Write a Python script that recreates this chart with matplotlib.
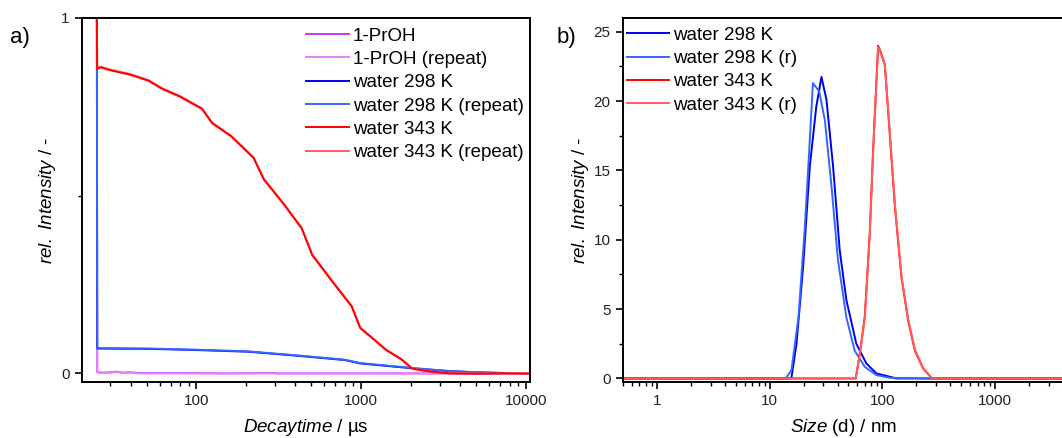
import numpy as np
import matplotlib
matplotlib.use('Agg')
import matplotlib.pyplot as plt
import matplotlib.ticker as mticker

plt.rcParams['font.family'] = ['Liberation Sans', 'DejaVu Sans']
plt.rcParams['mathtext.fontset'] = 'custom'
plt.rcParams['mathtext.rm'] = 'Liberation Sans'
plt.rcParams['mathtext.it'] = 'Liberation Sans:italic'

# ---- panel a: decay curves ----
t_red = [25, 25.1, 26.3, 30, 40, 51.5, 62.4, 79.4, 108.5, 125, 163, 223, 258, 336,
         437, 506, 658, 879, 991, 1173, 1420, 1764, 2037, 2400, 3375, 5000, 7500, 10700]
i_red = [1.0, 0.856, 0.861, 0.853, 0.840, 0.823, 0.800, 0.779, 0.744, 0.704, 0.667,
         0.606, 0.545, 0.479, 0.408, 0.333, 0.263, 0.188, 0.127, 0.099, 0.066, 0.039,
         0.014, 0.0075, 0.0, -0.001, 0.0, -0.001]
i_red_r = [1.0, 0.858, 0.863, 0.855, 0.842, 0.825, 0.802, 0.781, 0.746, 0.706, 0.669,
           0.608, 0.547, 0.481, 0.410, 0.335, 0.265, 0.190, 0.129, 0.100, 0.067, 0.040,
           0.015, 0.008, 0.001, 0.0, 0.0, 0.0]

t_blue = [25, 25.1, 51.5, 96, 208, 427, 798, 991, 2088, 3375, 4960, 7460]
i_blue = [1.0, 0.070, 0.069, 0.066, 0.061, 0.049, 0.0376, 0.028, 0.014, 0.0066, 0.003, 0.001]
i_blue_r = [1.0, 0.071, 0.070, 0.067, 0.062, 0.050, 0.0385, 0.029, 0.015, 0.007, 0.0035, 0.0012]

t_pr = [25, 25.1, 27, 30, 33, 36, 40, 45, 60, 90, 150, 300, 320, 600, 1000, 3000, 10700]
i_pr = [1.0, 0.004, 0.002, 0.003, 0.005, 0.002, 0.003, 0.001, 0.001, 0.001, 0.0,
        0.001, 0.0, 0.0, 0.0, 0.0, 0.0]
i_pr_r = [1.0, 0.003, 0.001, 0.002, 0.004, 0.001, 0.002, 0.0, 0.0, 0.0, 0.0,
          0.0, 0.0, 0.0, 0.0, 0.0, 0.0]

# ---- panel b: size distributions ----
d_b298 = [0.4, 15.0, 15.6, 17.3, 19.8, 22.7, 25.9, 28.8, 31.9, 36.5, 41.8, 47.9, 58.7,
          72.1, 88.5, 124, 132, 10000]
v_b298 = [0, 0, 0.05, 2.5, 8.05, 15.3, 19.6, 21.75, 20.1, 15.3, 9.25, 5.65, 2.5,
          1.08, 0.36, 0.07, 0, 0]
d_b298r = [0.4, 13.5, 14.0, 15.6, 18.0, 20.5, 22.7, 24.2, 27.5, 30.9, 35.4, 40.4, 47.9,
           56.8, 69.7, 88.5, 115.8, 265, 10000]
v_b298r = [0, 0, 0.05, 0.6, 4.4, 10.9, 17.2, 21.3, 20.7, 18.6, 13.8, 8.5, 4.4,
           2.0, 0.84, 0.24, 0.05, 0, 0]
d_r343 = [0.4, 58.0, 63, 69.7, 77.2, 82.7, 91.6, 98, 105, 116, 129, 147.5, 169, 194,
          229.6, 272, 281, 10000]
v_r343 = [0, 0, 1.8, 4.45, 10.5, 16.5, 24.0, 23.4, 22.6, 17.7, 12.4, 7.3, 4.2, 2.0,
          0.72, 0.05, 0, 0]
v_r343r = [0, 0, 1.7, 4.3, 10.3, 16.3, 23.9, 23.3, 22.7, 17.9, 12.6, 7.4, 4.3, 2.1,
           0.75, 0.06, 0, 0]

c_pr, c_pr_r = '#cc33ff', '#e680ff'
c_b, c_b_r = '#0000ee', '#3366ff'
c_r, c_r_r = '#ff0000', '#ff5c5c'

fig = plt.figure(figsize=(10.62, 4.38), dpi=100)
ax1 = fig.add_axes([0.0772, 0.128, 0.4218, 0.831])
ax2 = fig.add_axes([0.5866, 0.128, 0.4144, 0.831])

lw = 1.4
ax1.plot(t_pr, i_pr, color=c_pr, lw=lw, label='1-PrOH')
ax1.plot(t_pr, i_pr_r, color=c_pr_r, lw=lw, label='1-PrOH (repeat)')
ax1.plot(t_blue, i_blue, color=c_b, lw=lw, label='water 298 K')
ax1.plot(t_blue, i_blue_r, color=c_b_r, lw=lw, label='water 298 K (repeat)')
ax1.plot(t_red, i_red_r, color=c_r_r, lw=lw, label='water 343 K (repeat)', zorder=2.1)
ax1.plot(t_red, i_red, color=c_r, lw=lw, label='water 343 K', zorder=2.2)

ax1.set_xscale('log')
ax1.set_xlim(20.3, 10600)
ax1.set_ylim(-0.024, 1.0)
ax1.set_yticks([0, 1])
ax1.yaxis.set_minor_locator(mticker.FixedLocator([0.5]))
ax1.xaxis.set_major_locator(mticker.FixedLocator([100, 1000, 10000]))
ax1.xaxis.set_major_formatter(mticker.FuncFormatter(lambda v, p: '%d' % v))
ax1.xaxis.set_minor_locator(mticker.LogLocator(base=10, subs=np.arange(2, 10)))
ax1.xaxis.set_minor_formatter(mticker.NullFormatter())
ax1.set_xlabel(r'$\mathit{Decaytime}$ / µs', fontsize=13.5, labelpad=6)
ax1.set_ylabel(r'$\mathit{rel.\ Intensity}$ / -', fontsize=13.5, labelpad=2)

ax2.plot(d_b298, v_b298, color=c_b, lw=lw, label='water 298 K')
ax2.plot(d_b298r, v_b298r, color=c_b_r, lw=lw, label='water 298 K (r)')
ax2.plot(d_r343, v_r343, color=c_r, lw=lw, label='water 343 K')
ax2.plot(d_r343, v_r343r, color=c_r_r, lw=lw, label='water 343 K (r)')

ax2.set_xscale('log')
ax2.set_xlim(0.5, 4000)
ax2.set_ylim(-0.25, 26)
ax2.yaxis.set_major_locator(mticker.MultipleLocator(5))
ax2.yaxis.set_minor_locator(mticker.MultipleLocator(2.5))
ax2.xaxis.set_major_locator(mticker.FixedLocator([1, 10, 100, 1000]))
ax2.xaxis.set_major_formatter(mticker.FuncFormatter(lambda v, p: '%d' % v))
ax2.xaxis.set_minor_locator(mticker.LogLocator(base=10, subs=np.arange(2, 10)))
ax2.xaxis.set_minor_formatter(mticker.NullFormatter())
ax2.set_xlabel(r'$\mathit{Size}$ (d) / nm', fontsize=13.5, labelpad=6)
ax2.set_ylabel(r'$\mathit{rel.\ Intensity}$ / -', fontsize=13.5, labelpad=2)

for ax in (ax1, ax2):
    for s in ax.spines.values():
        s.set_linewidth(1.4)
        s.set_color('black')
    ax.tick_params(which='major', direction='out', length=5, width=1.2,
                   labelsize=11, colors='black', labelcolor='#222222', pad=4)
    ax.tick_params(which='minor', direction='out', length=3, width=1.0)
    ax.tick_params(top=False, right=False, which='both')

# keep legend order as in the reference
h1, l1 = ax1.get_legend_handles_labels()
order = [0, 1, 2, 3, 5, 4]
ax1.legend([h1[i] for i in order], [l1[i] for i in order],
           loc='upper left', bbox_to_anchor=(0.288, 0.937), bbox_transform=fig.transFigure,
           frameon=False, fontsize=13.5, handlelength=2.3, handletextpad=0.2,
           labelspacing=0.33, borderpad=0, borderaxespad=0)
ax2.legend(loc='upper left', bbox_to_anchor=(0.5904, 0.939), bbox_transform=fig.transFigure,
           frameon=False, fontsize=13.5, handlelength=2.25, handletextpad=0.22,
           labelspacing=0.33, borderpad=0, borderaxespad=0)

fig.text(0.0095, 0.915, 'a)', fontsize=16, ha='left', va='center')
fig.text(0.524, 0.915, 'b)', fontsize=16, ha='left', va='center')

fig.savefig('out.png', dpi=100)
